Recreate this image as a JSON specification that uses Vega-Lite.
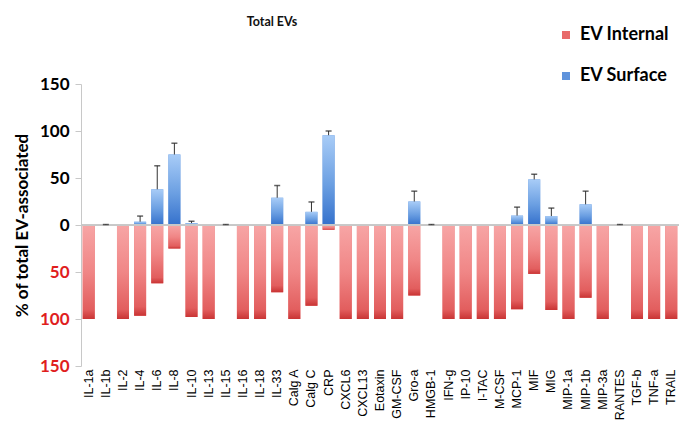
{
  "$schema": "https://vega.github.io/schema/vega-lite/v6.json",
  "width": 598,
  "height": 282,
  "autosize": "none",
  "padding": {"left": 81, "top": 84, "right": 0, "bottom": 56},
  "background": "white",
  "title": {
    "text": "Total EVs",
    "font": "Lato",
    "fontSize": 12.5,
    "fontWeight": "bold",
    "color": "#111",
    "anchor": "middle",
    "dx": -108,
    "offset": -15,
    "baseline": "bottom"
  },
  "config": {
    "view": {"stroke": null},
    "axis": {"grid": false}
  },
  "data": {
    "values": [
      {"name": "IL-1a", "series": "EV Internal", "value": -100, "hi": null},
      {"name": "IL-1a", "series": "EV Surface", "value": 0, "hi": null},
      {"name": "IL-1b", "series": "EV Internal", "value": 0, "hi": null},
      {"name": "IL-1b", "series": "EV Surface", "value": 0, "hi": 0.5},
      {"name": "IL-2", "series": "EV Internal", "value": -100, "hi": null},
      {"name": "IL-2", "series": "EV Surface", "value": 0, "hi": null},
      {"name": "IL-4", "series": "EV Internal", "value": -96.5, "hi": null},
      {"name": "IL-4", "series": "EV Surface", "value": 3.5, "hi": 9.5},
      {"name": "IL-6", "series": "EV Internal", "value": -62, "hi": null},
      {"name": "IL-6", "series": "EV Surface", "value": 38, "hi": 63},
      {"name": "IL-8", "series": "EV Internal", "value": -25, "hi": null},
      {"name": "IL-8", "series": "EV Surface", "value": 75, "hi": 87},
      {"name": "IL-10", "series": "EV Internal", "value": -98, "hi": null},
      {"name": "IL-10", "series": "EV Surface", "value": 2, "hi": 4},
      {"name": "IL-13", "series": "EV Internal", "value": -100, "hi": null},
      {"name": "IL-13", "series": "EV Surface", "value": 0, "hi": null},
      {"name": "IL-15", "series": "EV Internal", "value": 0, "hi": null},
      {"name": "IL-15", "series": "EV Surface", "value": 0, "hi": 0.5},
      {"name": "IL-16", "series": "EV Internal", "value": -100, "hi": null},
      {"name": "IL-16", "series": "EV Surface", "value": 0, "hi": null},
      {"name": "IL-18", "series": "EV Internal", "value": -100, "hi": null},
      {"name": "IL-18", "series": "EV Surface", "value": 0, "hi": null},
      {"name": "IL-33", "series": "EV Internal", "value": -71.5, "hi": null},
      {"name": "IL-33", "series": "EV Surface", "value": 29, "hi": 42},
      {"name": "Calg A", "series": "EV Internal", "value": -100, "hi": null},
      {"name": "Calg A", "series": "EV Surface", "value": 0, "hi": null},
      {"name": "Calg C", "series": "EV Internal", "value": -86, "hi": null},
      {"name": "Calg C", "series": "EV Surface", "value": 14, "hi": 24.5},
      {"name": "CRP", "series": "EV Internal", "value": -5, "hi": null},
      {"name": "CRP", "series": "EV Surface", "value": 95.5, "hi": 100},
      {"name": "CXCL6", "series": "EV Internal", "value": -100, "hi": null},
      {"name": "CXCL6", "series": "EV Surface", "value": 0, "hi": null},
      {"name": "CXCL13", "series": "EV Internal", "value": -100, "hi": null},
      {"name": "CXCL13", "series": "EV Surface", "value": 0, "hi": null},
      {"name": "Eotaxin", "series": "EV Internal", "value": -100, "hi": null},
      {"name": "Eotaxin", "series": "EV Surface", "value": 0, "hi": null},
      {"name": "GM-CSF", "series": "EV Internal", "value": -100, "hi": null},
      {"name": "GM-CSF", "series": "EV Surface", "value": 0, "hi": null},
      {"name": "Gro-a", "series": "EV Internal", "value": -75, "hi": null},
      {"name": "Gro-a", "series": "EV Surface", "value": 25, "hi": 36},
      {"name": "HMGB-1", "series": "EV Internal", "value": 0, "hi": null},
      {"name": "HMGB-1", "series": "EV Surface", "value": 0, "hi": 0.5},
      {"name": "IFN-g", "series": "EV Internal", "value": -100, "hi": null},
      {"name": "IFN-g", "series": "EV Surface", "value": 0, "hi": null},
      {"name": "IP-10", "series": "EV Internal", "value": -100, "hi": null},
      {"name": "IP-10", "series": "EV Surface", "value": 0, "hi": null},
      {"name": "I-TAC", "series": "EV Internal", "value": -100, "hi": null},
      {"name": "I-TAC", "series": "EV Surface", "value": 0, "hi": null},
      {"name": "M-CSF", "series": "EV Internal", "value": -100, "hi": null},
      {"name": "M-CSF", "series": "EV Surface", "value": 0, "hi": null},
      {"name": "MCP-1", "series": "EV Internal", "value": -89.5, "hi": null},
      {"name": "MCP-1", "series": "EV Surface", "value": 10, "hi": 19},
      {"name": "MIF", "series": "EV Internal", "value": -52, "hi": null},
      {"name": "MIF", "series": "EV Surface", "value": 48.5, "hi": 54},
      {"name": "MIG", "series": "EV Internal", "value": -90.5, "hi": null},
      {"name": "MIG", "series": "EV Surface", "value": 9.5, "hi": 18},
      {"name": "MIP-1a", "series": "EV Internal", "value": -100, "hi": null},
      {"name": "MIP-1a", "series": "EV Surface", "value": 0, "hi": null},
      {"name": "MIP-1b", "series": "EV Internal", "value": -77.5, "hi": null},
      {"name": "MIP-1b", "series": "EV Surface", "value": 22, "hi": 36},
      {"name": "MIP-3a", "series": "EV Internal", "value": -100, "hi": null},
      {"name": "MIP-3a", "series": "EV Surface", "value": 0, "hi": null},
      {"name": "RANTES", "series": "EV Internal", "value": 0, "hi": null},
      {"name": "RANTES", "series": "EV Surface", "value": 0, "hi": 0.5},
      {"name": "TGF-b", "series": "EV Internal", "value": -100, "hi": null},
      {"name": "TGF-b", "series": "EV Surface", "value": 0, "hi": null},
      {"name": "TNF-a", "series": "EV Internal", "value": -100, "hi": null},
      {"name": "TNF-a", "series": "EV Surface", "value": 0, "hi": null},
      {"name": "TRAIL", "series": "EV Internal", "value": -100, "hi": null},
      {"name": "TRAIL", "series": "EV Surface", "value": 0, "hi": null}
    ]
  },
  "encoding": {
    "x": {
      "field": "name",
      "type": "nominal",
      "sort": null,
      "scale": {"paddingInner": 0.3, "paddingOuter": 0.1},
      "axis": {
        "title": null,
        "domain": false,
        "ticks": false,
        "labelAngle": -90,
        "labelFont": "Liberation Sans",
        "labelFontSize": 12.5,
        "labelColor": "#000",
        "labelPadding": 3
      }
    }
  },
  "layer": [
    {
      "mark": {"type": "bar"},
      "encoding": {
        "y": {
          "field": "value",
          "type": "quantitative",
          "scale": {"domain": [-150, 150], "nice": false},
          "axis": {
            "values": [-150, -100, -50, 0, 50, 100, 150],
            "labelExpr": "format(abs(datum.value), 'd')",
            "labelFont": "Lato",
            "labelFontSize": 17,
            "labelFontWeight": "bold",
            "labelColor": {"condition": {"test": "datum.value < 0", "value": "#e01e1e"}, "value": "#000"},
            "labelPadding": 6,
            "domainColor": "#c8c8c8",
            "tickColor": "#c8c8c8",
            "tickSize": 6,
            "title": "% of total EV-associated",
            "titleFont": "Lato",
            "titleFontSize": 17,
            "titleFontWeight": "bold",
            "titleColor": "#000",
            "titlePadding": 8
          }
        },
        "color": {
          "field": "series",
          "type": "nominal",
          "scale": {"domain": ["EV Internal", "EV Surface"], "range": ["#e86a6a", "#5f93dc"]},
          "legend": {
            "title": null,
            "orient": "none",
            "legendX": 476,
            "legendY": -58,
            "padding": 0,
            "symbolType": "square",
            "symbolSize": 64,
            "symbolStrokeWidth": 0,
            "labelFont": "Lato",
            "labelFontSize": 18,
            "labelFontWeight": "bold",
            "labelColor": "#000",
            "labelOffset": 5,
            "rowPadding": 23
          }
        }
      }
    },
    {
      "transform": [{"filter": "datum.series === 'EV Surface'"}],
      "mark": {
        "type": "bar",
        "fill": {
          "gradient": "linear", "x1": 0, "y1": 0, "x2": 0, "y2": 1,
          "stops": [
            {"offset": 0, "color": "#a8ccf7"},
            {"offset": 0.55, "color": "#6b9fe2"},
            {"offset": 1, "color": "#3571cc"}
          ]
        }
      },
      "encoding": {"y": {"field": "value", "type": "quantitative"}}
    },
    {
      "transform": [{"filter": "datum.series === 'EV Internal'"}],
      "mark": {
        "type": "bar",
        "fill": {
          "gradient": "linear", "x1": 0, "y1": 0, "x2": 0, "y2": 1,
          "stops": [
            {"offset": 0, "color": "#f7a5a5"},
            {"offset": 0.5, "color": "#f08686"},
            {"offset": 0.9, "color": "#e25e5e"},
            {"offset": 1, "color": "#c93434"}
          ]
        }
      },
      "encoding": {"y": {"field": "value", "type": "quantitative"}}
    },
    {
      "mark": {"type": "rule", "color": "#c8c8c8", "strokeWidth": 1},
      "encoding": {"y": {"datum": 0}, "x": {"value": 0}, "x2": {"value": 598}}
    },
    {
      "transform": [{"filter": "datum.hi != null"}],
      "mark": {"type": "rule", "color": "#333", "strokeWidth": 1},
      "encoding": {
        "y": {"field": "value", "type": "quantitative"},
        "y2": {"field": "hi"}
      }
    },
    {
      "transform": [{"filter": "datum.hi != null"}],
      "mark": {"type": "tick", "color": "#222", "size": 6, "thickness": 1.5},
      "encoding": {"y": {"field": "hi", "type": "quantitative"}}
    }
  ]
}
